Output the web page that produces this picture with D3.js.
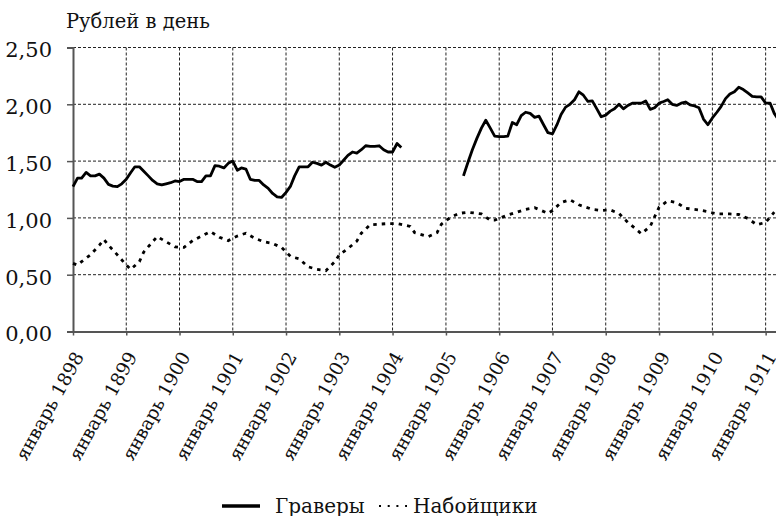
<!DOCTYPE html>
<html>
<head>
<meta charset="utf-8">
<script src="https://cdn.jsdelivr.net/npm/d3@7"></script>
<style>
body { margin: 0; background: #fff; }
</style>
</head>
<body>
<div id="chart-area"></div>
<script>
const MARGIN = { LEFT: 73, RIGHT: 0, TOP: 47.5, BOTTOM: 184.5 }
const WIDTH = 776 - MARGIN.LEFT - MARGIN.RIGHT
const HEIGHT = 516 - MARGIN.TOP - MARGIN.BOTTOM
const FONT = '"DejaVu Serif", "Liberation Serif", "Times New Roman", serif'

// Граверы: monthly, gap between 1904-03 and 1905-05 (null)
const engraverMonths = [
  '1898-01','1898-02','1898-03','1898-04','1898-05','1898-06','1898-07','1898-08','1898-09','1898-10','1898-11','1898-12',
  '1899-01','1899-02','1899-03','1899-04','1899-05','1899-06','1899-07','1899-08','1899-09','1899-10','1899-11','1899-12',
  '1900-01','1900-02','1900-03','1900-04','1900-05','1900-06','1900-07','1900-08','1900-09','1900-10','1900-11','1900-12',
  '1901-01','1901-02','1901-03','1901-04','1901-05','1901-06','1901-07','1901-08','1901-09','1901-10','1901-11','1901-12',
  '1902-01','1902-02','1902-03','1902-04','1902-05','1902-06','1902-07','1902-08','1902-09','1902-10','1902-11','1902-12',
  '1903-01','1903-02','1903-03','1903-04','1903-05','1903-06','1903-07','1903-08','1903-09','1903-10','1903-11','1903-12',
  '1904-01','1904-02','1904-03','1904-04',
  '1905-05','1905-06','1905-07','1905-08','1905-09','1905-10','1905-11','1905-12',
  '1906-01','1906-02','1906-03','1906-04','1906-05','1906-06','1906-07','1906-08','1906-09','1906-10','1906-11','1906-12',
  '1907-01','1907-02','1907-03','1907-04','1907-05','1907-06','1907-07','1907-08','1907-09','1907-10','1907-11','1907-12',
  '1908-01','1908-02','1908-03','1908-04','1908-05','1908-06','1908-07','1908-08','1908-09','1908-10','1908-11','1908-12',
  '1909-01','1909-02','1909-03','1909-04','1909-05','1909-06','1909-07','1909-08','1909-09','1909-10','1909-11','1909-12',
  '1910-01','1910-02','1910-03','1910-04','1910-05','1910-06','1910-07','1910-08','1910-09','1910-10','1910-11','1910-12',
  '1911-01','1911-02','1911-03','1911-04'
]
const engraverValues = [
  1.275,1.35,1.35,1.40,1.37,1.37,1.385,1.35,1.295,1.28,1.275,1.30,
  1.34,1.40,1.45,1.45,1.41,1.37,1.33,1.30,1.29,1.30,1.31,1.325,
  1.32,1.34,1.34,1.34,1.32,1.32,1.37,1.37,1.46,1.455,1.44,1.48,
  1.50,1.42,1.44,1.43,1.34,1.33,1.33,1.29,1.26,1.215,1.185,1.18,
  1.225,1.28,1.37,1.45,1.45,1.45,1.49,1.48,1.465,1.49,1.465,1.445,
  1.465,1.51,1.55,1.58,1.57,1.60,1.635,1.63,1.63,1.635,1.60,1.58,
  1.58,1.655,1.62,null,
  1.37,1.49,1.60,1.70,1.79,1.86,1.79,1.72,
  1.715,1.715,1.72,1.84,1.82,1.90,1.93,1.92,1.885,1.895,1.82,1.75,
  1.74,1.82,1.91,1.975,2.00,2.04,2.11,2.08,2.025,2.03,1.96,1.89,
  1.905,1.94,1.96,2.00,1.96,1.99,2.01,2.01,2.01,2.03,1.955,1.97,
  2.01,2.025,2.04,2.00,1.99,2.01,2.02,1.995,1.985,1.97,1.87,1.82,
  1.88,1.93,1.98,2.05,2.09,2.11,2.15,2.13,2.10,2.07,2.065,2.065,
  2.01,2.01,1.92,1.86
]

// Набойщики
const printerMonths = [
  '1898-01','1898-02','1898-03','1898-05','1898-07','1898-08','1898-09','1898-11',
  '1899-01','1899-02','1899-04','1899-05','1899-07','1899-08','1899-10','1899-12',
  '1900-02','1900-04','1900-06','1900-08','1900-10','1900-12',
  '1901-02','1901-04','1901-06','1901-08','1901-10','1901-12',
  '1902-02','1902-04','1902-06','1902-08','1902-10','1902-12',
  '1903-01','1903-03','1903-05','1903-06','1903-08','1903-10','1903-12',
  '1904-02','1904-05','1904-06','1904-09','1904-11','1904-12',
  '1905-02','1905-04','1905-06','1905-09','1905-11','1905-12',
  '1906-03','1906-05','1906-07','1906-09','1906-12',
  '1907-01','1907-03','1907-05','1907-07','1907-10','1907-12',
  '1908-02','1908-04','1908-06','1908-08','1908-09','1908-11','1908-12',
  '1909-01','1909-03','1909-05','1909-07','1909-10','1909-12',
  '1910-02','1910-05','1910-07','1910-09','1910-11',
  '1911-01','1911-03'
]
const printerValues = [
  0.60,0.585,0.615,0.675,0.76,0.81,0.76,0.675,
  0.585,0.547,0.615,0.70,0.79,0.835,0.79,0.745,
  0.74,0.80,0.84,0.88,0.83,0.80,
  0.84,0.865,0.82,0.79,0.775,0.74,
  0.66,0.64,0.57,0.547,0.535,0.615,
  0.675,0.73,0.795,0.865,0.94,0.945,0.95,
  0.95,0.925,0.87,0.835,0.87,0.945,
  1.005,1.04,1.05,1.035,0.98,0.98,
  1.025,1.05,1.075,1.09,1.04,
  1.065,1.135,1.16,1.115,1.075,1.065,
  1.07,1.04,0.96,0.895,0.86,0.925,1.01,
  1.095,1.15,1.135,1.085,1.07,1.055,
  1.035,1.035,1.03,0.995,0.94,
  0.96,1.05
]

const yTicks = [0, 0.5, 1.0, 1.5, 2.0, 2.5]
const xTickYears = [1898,1899,1900,1901,1902,1903,1904,1905,1906,1907,1908,1909,1910,1911]
const seriesNames = ['Граверы', 'Набойщики']

const parseMonth = d3.timeParse('%Y-%m')
const engravers = engraverMonths.map((m, i) => ({ date: parseMonth(m), value: engraverValues[i] }))
const printers = printerMonths.map((m, i) => ({ date: parseMonth(m), value: printerValues[i] }))

const svg = d3.select('#chart-area')
  .append('svg')
  .attr('width', 776)
  .attr('height', 516)
  .style('font-family', FONT)

const g = svg.append('g')
  .attr('transform', `translate(${MARGIN.LEFT},${MARGIN.TOP})`)

const x = d3.scaleTime()
  .domain([new Date(1898, 0, 1), new Date(1911, 2, 13)])
  .range([0, WIDTH])

const y = d3.scaleLinear()
  .domain([0, 2.5])
  .range([HEIGHT, 0])

const fmt = v => d3.format('.2f')(v).replace('.', ',')

// grid
g.append('g').selectAll('line')
  .data(yTicks.filter(d => d > 0))
  .enter().append('line')
  .attr('x1', 0).attr('x2', WIDTH)
  .attr('y1', d => y(d)).attr('y2', d => y(d))
  .attr('stroke', '#222').attr('stroke-width', 1)
  .attr('stroke-dasharray', '3,2')

g.append('g').selectAll('line')
  .data(xTickYears.slice(1))
  .enter().append('line')
  .attr('x1', d => x(new Date(d, 0, 1))).attr('x2', d => x(new Date(d, 0, 1)))
  .attr('y1', 0).attr('y2', HEIGHT)
  .attr('stroke', '#222').attr('stroke-width', 1)
  .attr('stroke-dasharray', '3,2')

// axes
const yAxisCall = d3.axisLeft(y)
  .tickValues(yTicks)
  .tickFormat(fmt)
  .tickSize(6)
  .tickPadding(15)

const yAxis = g.append('g').call(yAxisCall).attr('font-family', FONT)
yAxis.select('.domain').attr('stroke', '#555').attr('stroke-width', 2)
yAxis.selectAll('.tick line').attr('stroke', '#555').attr('stroke-width', 1.5)
yAxis.selectAll('text').attr('font-size', 21).attr('fill', '#111').attr('dy', '0.45em')

const xAxisCall = d3.axisBottom(x)
  .tickValues(xTickYears.map(yr => new Date(yr, 0, 1)))
  .tickFormat(d => 'январь ' + d.getFullYear())
  .tickSize(4)
  .tickSizeOuter(0)

const xAxis = g.append('g')
  .attr('transform', `translate(0,${HEIGHT})`)
  .call(xAxisCall)
  .attr('font-family', FONT)
xAxis.select('.domain').attr('stroke', '#555').attr('stroke-width', 2)
xAxis.selectAll('.tick line').attr('stroke', '#555').attr('stroke-width', 1.5)
xAxis.selectAll('text')
  .attr('font-size', 18.5)
  .attr('fill', '#111')
  .attr('text-anchor', 'end')
  .attr('dy', 0)
  .attr('y', 0)
  .attr('transform', 'translate(11,25) rotate(-61)')

// lines
const line = d3.line()
  .defined(d => d.value !== null)
  .x(d => x(d.date))
  .y(d => y(d.value))

g.append('path')
  .datum(engravers)
  .attr('fill', 'none')
  .attr('stroke', '#000')
  .attr('stroke-width', 2.8)
  .attr('stroke-linejoin', 'round')
  .attr('d', line)

g.append('path')
  .datum(printers)
  .attr('fill', 'none')
  .attr('stroke', '#000')
  .attr('stroke-width', 2.8)
  .attr('stroke-dasharray', '3.5,5')
  .attr('d', line)

// y title
svg.append('text')
  .attr('x', 66)
  .attr('y', 28)
  .attr('font-size', 19.5)
  .attr('fill', '#111')
  .text('Рублей в день')

// legend
const legend = svg.append('g').attr('transform', 'translate(222,506)')
legend.append('line')
  .attr('x1', 0).attr('x2', 38).attr('y1', 0).attr('y2', 0)
  .attr('stroke', '#000').attr('stroke-width', 3.5)
legend.append('text')
  .attr('x', 53).attr('y', 6.5)
  .attr('font-size', 20)
  .attr('fill', '#111')
  .text(seriesNames[0])
legend.append('line')
  .attr('x1', 157).attr('x2', 185).attr('y1', 0).attr('y2', 0)
  .attr('stroke', '#000').attr('stroke-width', 2)
  .attr('stroke-dasharray', '2,6.7')
legend.append('text')
  .attr('x', 191).attr('y', 6.5)
  .attr('font-size', 20)
  .attr('fill', '#111')
  .text(seriesNames[1])
</script>
</body>
</html>
